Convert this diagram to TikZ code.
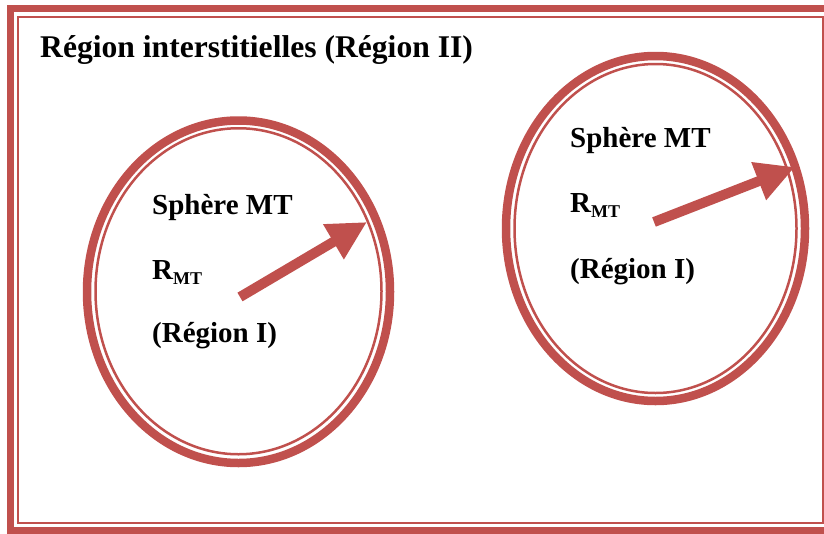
\documentclass[tikz,border=0pt]{standalone}
\usepackage{fontspec}
\setmainfont{Liberation Serif}
\usetikzlibrary{arrows.meta}
\definecolor{ared}{HTML}{C0504D}
\newcommand{\rmtlabel}{R\raisebox{-5pt}{\fontsize{18}{20}\selectfont MT}}
\begin{document}
\begin{tikzpicture}[x=1pt,y=-1pt,
  lbl/.style={anchor=base west, inner sep=0pt, font=\fontsize{29}{34}\selectfont\bfseries},
  ring/.style={draw=ared, line width=8.5pt},
  thinring/.style={draw=ared, line width=2.5pt},
  radarrow/.style={draw=ared, line width=10pt, -{Triangle[length=39pt,width=38pt]}}]
\useasboundingbox (0,0) rectangle (824,533);
% frame
\draw[ared, line width=7pt] (10.5,8.5) rectangle (831,530.5);
\draw[ared, line width=2pt] (18,16.5) rectangle (822.5,523);
% title
\node[lbl, font=\fontsize{31.6}{36}\selectfont\bfseries] (title) at (40,57) {Région interstitielles (Région II)};
% left sphere
\draw[ring] (238.5,291.75) ellipse [x radius=151.5, y radius=171.25];
\draw[thinring] (238.5,291.25) ellipse [x radius=143, y radius=163];
\node[lbl] (s1) at (152,214) {Sphère MT};
\node[lbl] (r1) at (152,279) {\rmtlabel};
\node[lbl] (g1) at (152,342) {(Région I)};
\coordinate (a1s) at (240,297);
\coordinate (a1e) at (367,222);
\draw[radarrow] (a1s) -- (a1e);
% right sphere
\draw[ring] (655.5,228.5) ellipse [x radius=149.5, y radius=172.5];
\draw[thinring] (655.5,228.5) ellipse [x radius=141, y radius=164.5];
\node[lbl] (s2) at (570,147) {Sphère MT};
\node[lbl] (r2) at (570,212) {\rmtlabel};
\node[lbl] (g2) at (570,278) {(Région I)};
\coordinate (a2s) at (654,222);
\coordinate (a2e) at (795,167);
\draw[radarrow] (a2s) -- (a2e);
\end{tikzpicture}
\end{document}
